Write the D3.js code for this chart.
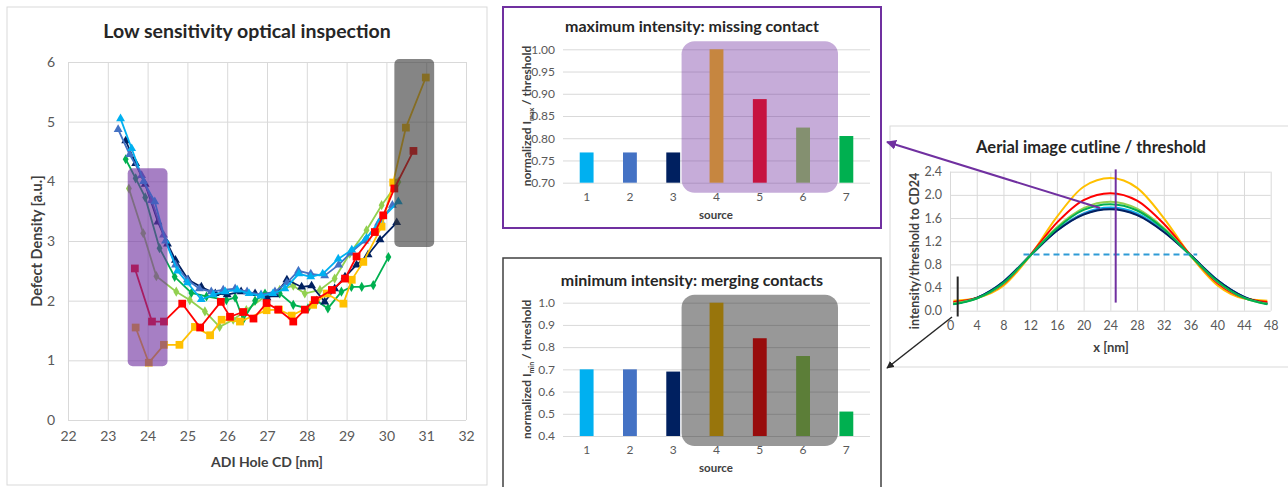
<!DOCTYPE html>
<html>
<head>
<meta charset="utf-8">
<script src="https://cdn.jsdelivr.net/npm/d3@7"></script>
<style>
  body { margin: 0; background: #fff; }
  text { font-family: Lato, "Open Sans", sans-serif; }
</style>
</head>
<body>
<svg id="fig" width="1288" height="487"></svg>
<script>
// ---------- data ----------
const sources = [1, 2, 3, 4, 5, 6, 7];
const sourceColors = ["#00b0f0", "#4472c4", "#002060", "#ffc000", "#ff0000", "#92d050", "#00b050"];
const maxIntensity = [0.768, 0.768, 0.768, 1.00, 0.888, 0.824, 0.805];
const minIntensity = [0.70, 0.70, 0.69, 1.00, 0.84, 0.76, 0.51];

// defect density vs ADI hole CD, [cd, density]
const cdSrc1 = [[23.32,5.05],[23.6,4.55],[23.9,4.0],[24.18,3.66],[24.45,3.0],[24.75,2.5],[25.0,2.3],[25.35,2.02],[25.65,2.1],[25.95,2.15],[26.25,2.18],[26.55,2.12],[26.85,2.08],[27.15,2.12],[27.45,2.2],[27.8,2.45],[28.1,2.4],[28.4,2.45],[28.79,2.7],[29.13,2.85],[29.5,3.05],[29.85,3.35],[30.3,3.66]];
const cdSrc2 = [[23.26,4.87],[23.55,4.45],[23.85,4.1],[24.1,3.68],[24.4,3.1],[24.7,2.6],[25.0,2.35],[25.3,2.2],[25.6,2.15],[25.9,2.18],[26.2,2.2],[26.5,2.15],[26.85,2.1],[27.2,2.15],[27.5,2.3],[27.79,2.5],[28.1,2.45],[28.45,2.42],[28.8,2.6],[29.1,2.8],[29.45,3.0],[29.8,3.3],[30.15,3.6]];
const cdSrc3 = [[23.45,4.68],[23.7,4.3],[23.94,3.95],[24.26,3.32],[24.5,2.95],[24.7,2.68],[25.02,2.35],[25.35,2.23],[25.7,2.12],[26.0,2.1],[26.35,2.15],[26.7,2.12],[27.0,2.05],[27.2,2.1],[27.5,2.35],[27.87,2.23],[28.12,2.25],[28.45,1.98],[28.7,2.2],[28.96,2.4],[29.25,2.6],[29.54,2.77],[29.84,3.02],[30.26,3.31]];
const cdSrc4 = [[23.70,1.55],[24.03,0.96],[24.41,1.26],[24.80,1.26],[25.19,1.56],[25.57,1.42],[25.86,1.68],[26.32,1.65],[26.99,1.84],[27.3,1.85],[27.62,1.75],[28.16,1.93],[28.5,2.12],[28.92,1.95],[29.13,2.35],[29.42,2.65],[29.88,3.24],[30.17,3.98],[30.49,4.9],[30.99,5.74]];
const cdSrc5 = [[23.68,2.54],[24.11,1.65],[24.41,1.65],[24.87,1.95],[25.32,1.55],[25.84,1.98],[26.07,1.73],[26.40,1.81],[26.66,1.70],[26.99,1.96],[27.28,1.85],[27.66,1.65],[27.95,1.85],[28.2,2.01],[28.63,2.18],[28.96,2.37],[29.25,2.74],[29.71,3.15],[29.92,3.43],[30.2,3.88],[30.68,4.51]];
const cdSrc6 = [[23.53,3.88],[23.89,3.13],[24.22,2.41],[24.72,2.15],[25.06,2.01],[25.44,1.82],[25.81,1.56],[26.15,1.68],[26.48,1.84],[26.95,2.07],[27.32,2.18],[27.66,2.25],[27.95,2.12],[28.33,2.18],[28.7,2.37],[29.08,2.79],[29.5,3.18],[29.88,3.6],[30.3,3.99]];
const cdSrc7 = [[23.45,4.37],[23.7,4.05],[23.94,3.73],[24.3,2.88],[24.68,2.4],[25.1,2.13],[25.48,2.07],[25.98,2.01],[26.2,2.05],[26.4,1.68],[26.7,2.0],[26.95,2.12],[27.32,2.12],[27.66,1.93],[28.03,1.87],[28.25,2.0],[28.53,1.87],[28.87,2.15],[29.12,2.23],[29.38,2.23],[29.67,2.26],[30.05,2.73]];

// aerial image cutline / threshold
const cutX    = [0.5, 4, 8, 12, 16, 20, 24, 28, 32, 36, 40, 44, 47.5];
const cutSrc1 = [0.12,0.22,0.50,0.95,1.39,1.68,1.78,1.68,1.38,0.96,0.53,0.24,0.12];
const cutSrc2 = [0.12,0.22,0.50,0.95,1.38,1.67,1.76,1.66,1.37,0.96,0.53,0.24,0.12];
const cutSrc3 = [0.12,0.22,0.50,0.95,1.38,1.66,1.75,1.65,1.36,0.96,0.53,0.24,0.12];
const cutSrc4 = [0.17,0.22,0.43,0.95,1.62,2.14,2.29,2.12,1.60,0.95,0.44,0.21,0.17];
const cutSrc5 = [0.15,0.22,0.46,0.96,1.52,1.91,2.03,1.90,1.50,0.96,0.48,0.22,0.15];
const cutSrc6 = [0.13,0.21,0.47,0.95,1.44,1.77,1.88,1.76,1.43,0.95,0.50,0.22,0.12];
const cutSrc7 = [0.11,0.21,0.48,0.95,1.42,1.74,1.84,1.73,1.41,0.95,0.51,0.22,0.11];
const thresholdLevel = 0.97;

const svg = d3.select("#fig");
svg.append("rect").attr("width", 1288).attr("height", 487).attr("fill", "#fff");

const defs = svg.append("defs");
function arrowMarker(id, color) {
  defs.append("marker").attr("id", id)
    .attr("viewBox", "0 0 10 10").attr("refX", 9).attr("refY", 5)
    .attr("markerWidth", 5).attr("markerHeight", 5).attr("orient", "auto")
    .append("path").attr("d", "M0,0 L10,5 L0,10 z").attr("fill", color);
}
arrowMarker("arrPurple", "#7030a0");
arrowMarker("arrBlack", "#262626");

function styleAxis(g, size) {
  g.select(".domain").remove();
  g.selectAll("line").attr("stroke", "#d9d9d9");
  g.selectAll("text").attr("fill", "#595959").style("font-size", size + "px");
}

// ---------- left: defect density ----------
const left = svg.append("g");
left.append("rect").attr("x", 7).attr("y", 7).attr("width", 480).attr("height", 478)
  .attr("fill", "none").attr("stroke", "#d9d9d9");

const xL = d3.scaleLinear().domain([22, 32]).range([68, 466]);
const yL = d3.scaleLinear().domain([0, 6]).range([420, 62]);

left.append("g").attr("transform", "translate(0,420)")
  .call(d3.axisBottom(xL).ticks(10).tickSize(-358).tickPadding(11))
  .call(g => styleAxis(g, 14));
left.append("g").attr("transform", "translate(68,0)")
  .call(d3.axisLeft(yL).ticks(6).tickSize(-398).tickPadding(13))
  .call(g => styleAxis(g, 14));

left.append("text").attr("x", 247).attr("y", 38).attr("text-anchor", "middle")
  .attr("font-weight", "bold").style("font-size", "19.5px").attr("fill", "#262626")
  .text("Low sensitivity optical inspection");
left.append("text").attr("x", 267).attr("y", 467).attr("text-anchor", "middle")
  .attr("font-weight", "bold").style("font-size", "14px").attr("fill", "#404040")
  .text("ADI Hole CD [nm]");
left.append("text").attr("transform", "translate(42,241) rotate(-90)").attr("text-anchor", "middle")
  .attr("font-weight", "bold").style("font-size", "14.5px").attr("fill", "#404040")
  .text("Defect Density [a.u.]");

const cdSeries = [
  { pts: cdSrc6, color: sourceColors[5], sym: d3.symbolDiamond, size: 30 },
  { pts: cdSrc7, color: sourceColors[6], sym: d3.symbolDiamond, size: 30 },
  { pts: cdSrc3, color: sourceColors[2], sym: d3.symbolTriangle, size: 34 },
  { pts: cdSrc2, color: sourceColors[1], sym: d3.symbolTriangle, size: 34 },
  { pts: cdSrc1, color: sourceColors[0], sym: d3.symbolTriangle, size: 34 },
  { pts: cdSrc4, color: sourceColors[3], sym: d3.symbolSquare, size: 60 },
  { pts: cdSrc5, color: sourceColors[4], sym: d3.symbolSquare, size: 60 }
];
const lineL = d3.line().x(d => xL(d[0])).y(d => yL(d[1]));
cdSeries.forEach(s => {
  left.append("path").attr("d", lineL(s.pts)).attr("fill", "none")
    .attr("stroke", s.color).attr("stroke-width", 1.8);
  left.append("g").selectAll("path").data(s.pts).join("path")
    .attr("transform", d => `translate(${xL(d[0])},${yL(d[1])})`)
    .attr("d", d3.symbol().type(s.sym).size(s.size)).attr("fill", s.color);
});

// highlight boxes
left.append("rect")
  .attr("x", xL(23.5)).attr("y", yL(4.22))
  .attr("width", xL(24.5) - xL(23.5)).attr("height", yL(0.9) - yL(4.22))
  .attr("rx", 5).attr("fill", "#7030a0").attr("opacity", 0.62);
left.append("rect")
  .attr("x", xL(30.2)).attr("y", yL(6.05))
  .attr("width", xL(31.2) - xL(30.2)).attr("height", yL(2.9) - yL(6.05))
  .attr("rx", 5).attr("fill", "#3a3a3a").attr("opacity", 0.62);

// ---------- bar panels ----------
function barPanel(opt) {
  const g = svg.append("g");
  g.append("rect").attr("x", 503).attr("y", opt.top).attr("width", 378).attr("height", opt.h)
    .attr("fill", "none").attr("stroke", opt.border).attr("stroke-width", opt.bw);
  const x = d3.scaleBand().domain(sources).range([565, 868]).paddingInner(0.68).paddingOuter(0.34);
  const y = d3.scaleLinear().domain(opt.domain).range(opt.yr);
  g.append("g").attr("transform", "translate(563,0)")
    .call(d3.axisLeft(y).ticks(6).tickFormat(d3.format(opt.fmt)).tickSize(-307).tickPadding(8))
    .call(a => styleAxis(a, 12));
  g.append("g").selectAll("rect").data(opt.values).join("rect")
    .attr("x", (d, i) => x(sources[i])).attr("width", x.bandwidth())
    .attr("y", d => y(d)).attr("height", d => y(opt.domain[0]) - y(d))
    .attr("fill", (d, i) => sourceColors[i]);
  g.append("g").selectAll("text").data(sources).join("text")
    .attr("x", d => x(d) + x.bandwidth() / 2).attr("y", opt.yr[0] + 18)
    .attr("text-anchor", "middle").style("font-size", "12px").attr("fill", "#595959").text(d => d);
  g.append("text").attr("x", 716).attr("y", opt.yr[0] + 36).attr("text-anchor", "middle")
    .attr("font-weight", "bold").style("font-size", "11.5px").attr("fill", "#404040").text("source");
  g.append("text").attr("x", 692).attr("y", opt.titleY).attr("text-anchor", "middle")
    .attr("font-weight", "bold").style("font-size", "16px").attr("fill", "#262626").text(opt.title);
  const yt = g.append("text")
    .attr("transform", `translate(531,${(opt.yr[0] + opt.yr[1]) / 2}) rotate(-90)`)
    .attr("text-anchor", "middle").attr("font-weight", "bold")
    .style("font-size", "12px").attr("fill", "#404040");
  yt.append("tspan").text("normalized I");
  yt.append("tspan").attr("dy", 3).style("font-size", "7px").text(opt.sub);
  yt.append("tspan").attr("dy", -3).text(" / threshold");
  // highlight over sources 4-6
  g.append("rect")
    .attr("x", x(4) - 28).attr("width", x(6) + x.bandwidth() + 28 - (x(4) - 28))
    .attr("y", y(opt.domain[1]) - 8).attr("height", opt.yr[0] + 18 - y(opt.domain[1]))
    .attr("rx", 13).attr("fill", opt.hl).attr("opacity", opt.hlOp);
}

barPanel({ top: 7, h: 221, border: "#7030a0", bw: 2, domain: [0.70, 1.00], yr: [182.7, 49.3],
  fmt: ".2f", values: maxIntensity, title: "maximum intensity: missing contact", titleY: 32,
  sub: "max", hl: "#7030a0", hlOp: 0.4 });
barPanel({ top: 258, h: 240, border: "#404040", bw: 1.5, domain: [0.4, 1.0], yr: [436, 302.7],
  fmt: ".1f", values: minIntensity, title: "minimum intensity: merging contacts", titleY: 286,
  sub: "min", hl: "#1a1a1a", hlOp: 0.45 });

// ---------- right: aerial image cutline ----------
const right = svg.append("g");
right.append("rect").attr("x", 890).attr("y", 126).attr("width", 400).attr("height", 241)
  .attr("fill", "none").attr("stroke", "#d9d9d9");
const xR = d3.scaleLinear().domain([0, 48]).range([950, 1270.7]);
const yR = d3.scaleLinear().domain([0, 2.4]).range([310.7, 171.7]);

right.append("g").attr("transform", "translate(0,310.7)")
  .call(d3.axisBottom(xR).tickValues(d3.range(0, 49, 4)).tickSize(-139).tickPadding(10))
  .call(g => styleAxis(g, 12.5));
right.append("g").attr("transform", "translate(950,0)")
  .call(d3.axisLeft(yR).tickValues(d3.range(0, 2.41, 0.4)).tickFormat(d3.format(".1f")).tickSize(-320.7).tickPadding(8))
  .call(g => styleAxis(g, 12.5));

right.append("text").attr("x", 1091).attr("y", 153).attr("text-anchor", "middle")
  .attr("font-weight", "bold").style("font-size", "16.5px").attr("fill", "#262626")
  .text("Aerial image cutline / threshold");
right.append("text").attr("x", 1111).attr("y", 352).attr("text-anchor", "middle")
  .attr("font-weight", "bold").style("font-size", "13px").attr("fill", "#404040").text("x [nm]");
right.append("text").attr("transform", "translate(919,251) rotate(-90)").attr("text-anchor", "middle")
  .attr("font-weight", "bold").style("font-size", "12.5px").attr("fill", "#404040")
  .text("intensity/threshold to CD24");

const cutSeries = [
  { v: cutSrc1, c: sourceColors[0] }, { v: cutSrc2, c: sourceColors[1] },
  { v: cutSrc4, c: sourceColors[3] }, { v: cutSrc5, c: sourceColors[4] },
  { v: cutSrc3, c: sourceColors[2] }, { v: cutSrc6, c: sourceColors[5] },
  { v: cutSrc7, c: sourceColors[6] }
];
const lineR = d3.line().x((d, i) => xR(cutX[i])).y(d => yR(d)).curve(d3.curveMonotoneX);
cutSeries.forEach(s => {
  right.append("path").attr("d", lineR(s.v)).attr("fill", "none")
    .attr("stroke", s.c).attr("stroke-width", 2);
});
right.append("line").attr("x1", xR(11)).attr("x2", xR(37))
  .attr("y1", yR(thresholdLevel)).attr("y2", yR(thresholdLevel))
  .attr("stroke", "#2e9bd6").attr("stroke-width", 2).attr("stroke-dasharray", "6,4");
right.append("line").attr("x1", xR(24.8)).attr("x2", xR(24.8))
  .attr("y1", yR(2.44)).attr("y2", yR(0.14)).attr("stroke", "#7030a0").attr("stroke-width", 2);
right.append("line").attr("x1", xR(1.15)).attr("x2", xR(1.15))
  .attr("y1", yR(0.59)).attr("y2", yR(-0.1)).attr("stroke", "#262626").attr("stroke-width", 2);

// ---------- arrows between panels ----------
svg.append("line").attr("x1", 1100).attr("y1", 208).attr("x2", 887).attr("y2", 142)
  .attr("stroke", "#7030a0").attr("stroke-width", 2).attr("marker-end", "url(#arrPurple)");
svg.append("line").attr("x1", 952).attr("y1", 317).attr("x2", 887).attr("y2", 368)
  .attr("stroke", "#262626").attr("stroke-width", 1.5).attr("marker-end", "url(#arrBlack)");
</script>
</body>
</html>
